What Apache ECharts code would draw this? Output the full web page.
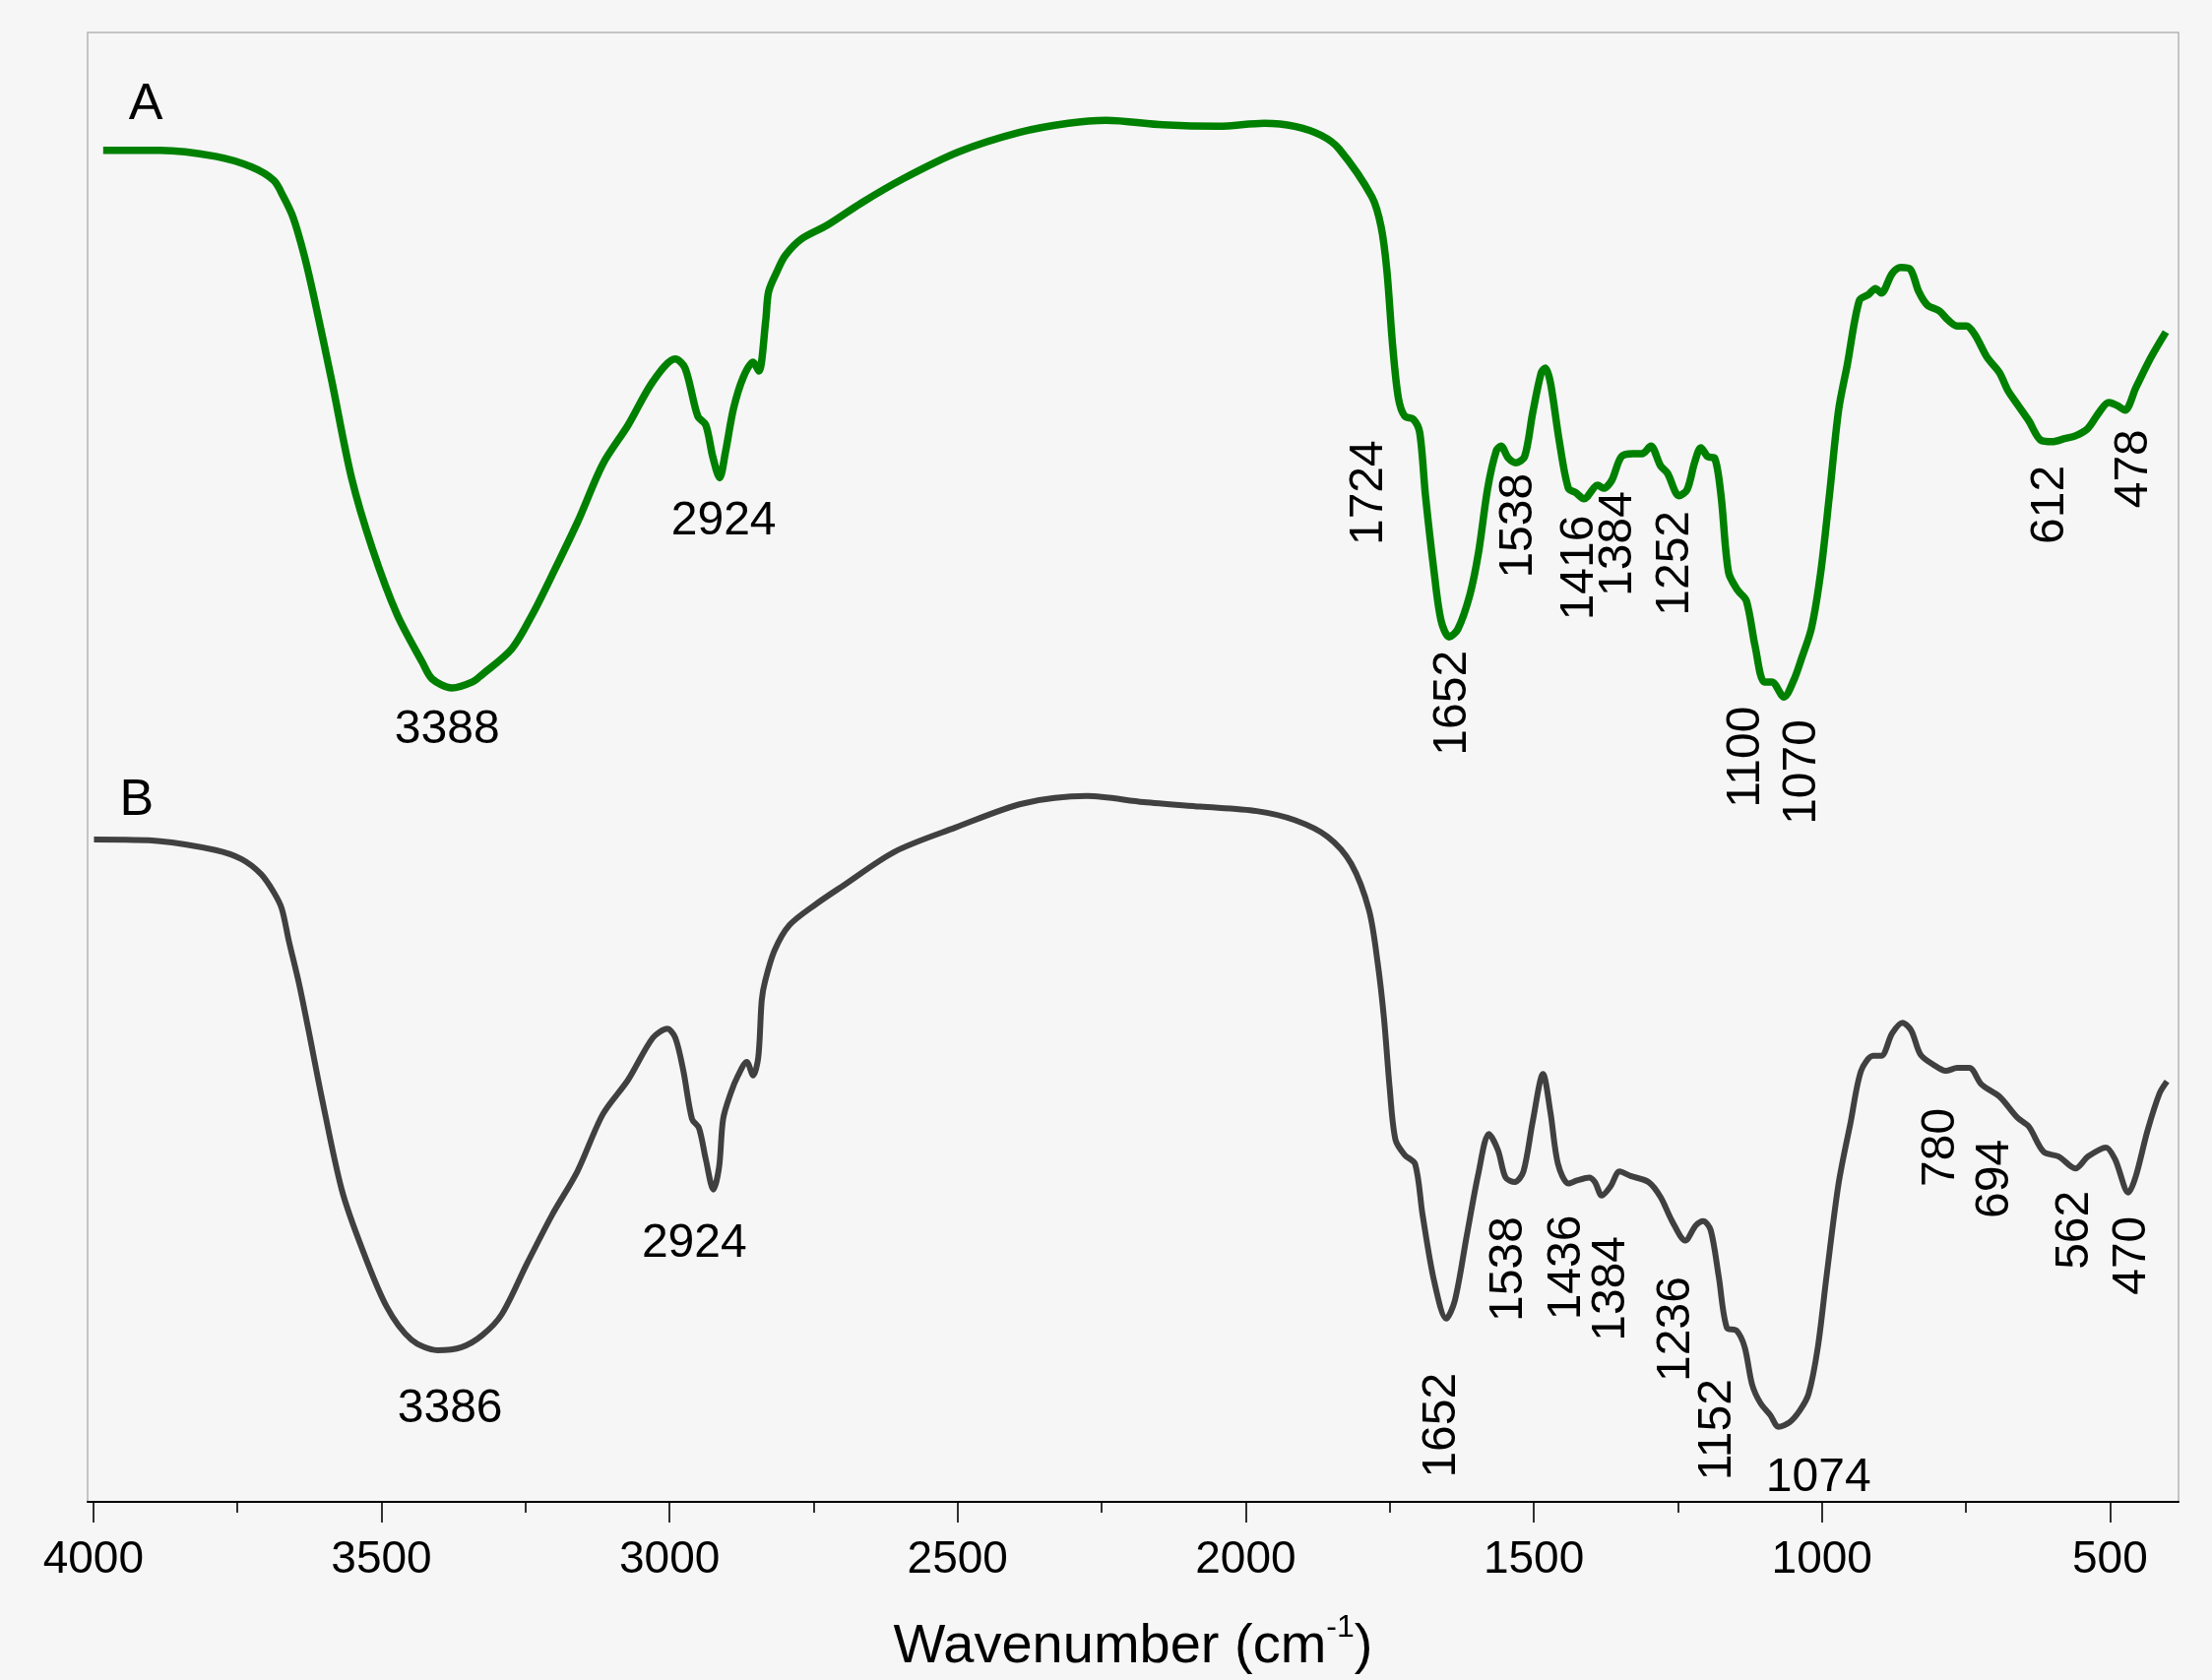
<!DOCTYPE html>
<html>
<head>
<meta charset="utf-8">
<script src="https://cdn.jsdelivr.net/npm/echarts@6/dist/echarts.min.js"></script>
<style>
html,body{margin:0;padding:0;background:#f6f6f6;}
#c{width:2247px;height:1707px;}
</style>
</head>
<body>
<div id="c"></div>
<script>
// Spectrum A (green): wavenumber (cm-1) and transmittance (a.u., offset)
const waveA = [3983,3884,3788,3726,3687,3670,3653,3634,3617,3586,3552,3516,3473,3429,3412,3378,3342,3325,3274,3238,3204,3159,3116,3072,3029,2990,2973,2951,2937,2925,2913,2903,2889,2872,2855,2845,2833,2828,2814,2799,2771,2727,2667,2595,2498,2392,2308,2242,2144,2047,1968,1915,1869,1838,1781,1765,1755,1745,1735,1724,1709,1698,1688,1673,1661,1647,1632,1611,1596,1580,1565,1557,1544,1531,1516,1502,1487,1480,1471,1456,1440,1427,1413,1389,1379,1365,1348,1328,1312,1297,1280,1268,1248,1234,1221,1210,1198,1186,1175,1162,1146,1131,1116,1100,1087,1066,1049,1035,1018,1002,987,971,956,935,919,907,897,878,863,847,832,817,796,781,765,749,734,713,692,677,661,641,620,600,579,559,538,518,502,487,474,455,429,403];
const transA = [90.0,90.0,89.6,88.9,88.0,86.9,85.5,83.0,80.2,74.6,68.2,63.5,59.1,55.9,54.8,54.2,54.6,55.1,56.8,59.1,61.7,65.3,69.1,71.7,74.6,76.1,75.5,72.3,71.7,69.6,68.2,69.9,72.8,74.9,75.9,75.3,78.7,80.6,81.9,83.0,84.1,85.0,86.5,88.1,89.9,91.2,91.8,92.0,91.7,91.6,91.8,91.6,91.0,90.1,86.9,84.9,82.0,77.0,73.5,72.3,72.1,71.2,67.0,61.9,58.7,57.6,58.1,60.4,63.2,67.5,70.0,70.3,69.5,69.2,69.6,72.5,75.2,75.5,74.5,70.7,67.5,67.2,66.8,67.7,67.5,68.0,69.6,69.8,69.8,70.3,69.0,68.5,67.0,67.4,69.2,70.2,69.6,69.5,67.0,61.9,60.7,60.0,57.0,54.6,54.6,53.6,54.7,56.2,58.2,61.9,67.0,72.7,75.7,80.0,80.4,80.8,80.5,81.8,82.2,82.1,80.6,79.7,79.3,78.7,78.3,78.3,77.7,76.2,75.2,74.0,73.1,72.0,70.7,70.6,70.8,71.0,71.5,72.6,73.2,73.0,72.7,74.2,76.2,77.9];

// Spectrum B (dark grey)
const waveB = [3999,3884,3788,3743,3709,3687,3673,3661,3643,3626,3604,3569,3535,3491,3448,3403,3361,3325,3291,3247,3204,3160,3116,3072,3029,3004,2990,2976,2961,2949,2937,2924,2914,2907,2894,2881,2866,2855,2846,2840,2834,2818,2792,2746,2700,2609,2504,2387,2275,2177,2079,1981,1915,1858,1817,1786,1771,1760,1750,1740,1724,1706,1693,1673,1652,1637,1616,1596,1578,1562,1549,1533,1518,1502,1484,1471,1458,1440,1425,1404,1394,1382,1367,1351,1332,1301,1280,1260,1237,1219,1206,1193,1179,1165,1148,1134,1121,1107,1090,1075,1056,1038,1023,1007,992,971,950,932,911,897,878,860,845,829,806,785,765,744,723,692,661,641,615,589,560,538,507,491,468,455,435,414,401];
const transB = [44.1,44.0,43.4,42.8,41.8,40.6,39.5,37.4,34.5,31.3,27.0,20.8,17.0,13.0,10.8,10.1,10.3,11.1,12.5,15.9,19.1,22.0,25.8,28.1,30.9,31.5,30.9,28.7,25.5,24.9,22.8,20.8,22.3,25.5,27.2,28.4,29.3,28.4,29.6,33.4,34.7,36.7,38.4,39.8,41.0,43.3,44.9,46.5,47.0,46.6,46.3,46.0,45.4,44.3,42.5,39.4,35.9,32.2,27.5,24.1,23.1,22.5,19.1,14.7,12.2,13.4,17.8,21.9,24.5,23.4,21.6,21.3,22.0,25.3,28.5,25.9,22.5,21.2,21.4,21.6,21.3,20.4,21.0,22.0,21.7,21.3,20.3,18.7,17.4,18.4,18.7,18.1,15.0,11.6,11.4,10.3,7.8,6.6,5.8,5.0,5.3,6.1,7.2,10.3,15.0,21.2,25.3,28.7,29.7,29.7,31.2,31.9,31.4,29.8,29.1,28.7,28.9,28.9,27.8,27.0,25.6,25.0,23.3,23.0,22.2,23.0,23.6,22.8,20.6,21.7,24.7,27.2,28.0];

// Peak annotations
const peakTextA = ['3388','2924','1724','1652','1538','1416','1384','1252','1100','1070','612','478'];
const peakXA    = [3386,2906,1785,1640,1526,1421,1353,1254,1131,1034,603,458];
const peakYA    = [51.4,65.3,67.2,53.2,65.0,62.2,63.8,62.5,49.6,48.6,66.4,68.8];
const peakRotA  = [0,0,90,90,90,90,90,90,90,90,90,90];

const peakTextB = ['3386','2924','1652','1538','1436','1384','1236','1152','1074','780','694','562','470'];
const peakXB    = [3381,2957,1659,1543,1442,1365,1252,1181,1006,794,700,560,461];
const peakYB    = [6.2,17.2,5.1,15.5,15.6,14.2,11.5,4.8,1.6,23.6,21.5,18.1,16.4];
const peakRotB  = [0,0,90,90,90,90,90,90,0,90,90,90,90];

const curveNames = ['A','B'];
const curveNameX = [3909,3925];
const curveNameY = [93.0,46.7];

const majorTicks = [4000,3500,3000,2500,2000,1500,1000,500];
const minorTicks = [3750,3250,2750,2250,1750,1250,750];

const FONT = '"Liberation Sans", Arial, sans-serif';

function zip(xs, ys){ return xs.map((x,i)=>[x, ys[i]]); }
function labelData(texts, xs, ys, rots, size){
  return texts.map((t,i)=>({
    value:[xs[i], ys[i]],
    label:{show:true, formatter:t, rotate:rots[i], position:'inside', fontSize:size, color:'#000000', fontFamily:FONT, align:'center', verticalAlign:'middle', textBorderWidth:0, opacity:1}
  }));
}
function labelSeries(texts, xs, ys, rots, size){
  return {type:'scatter', symbolSize:0, silent:true, z:5,
    itemStyle:{opacity:0},
    label:{show:true, color:'#000000', fontSize:size, fontFamily:FONT, position:'inside', textBorderWidth:0, opacity:1},
    emphasis:{disabled:true},
    data:labelData(texts, xs, ys, rots, size)};
}

const chart = echarts.init(document.getElementById('c'), null, {renderer:'canvas'});
chart.setOption({
  backgroundColor:'#f6f6f6',
  animation:false,
  grid:{left:89, right:34, top:33, bottom:175, show:true, borderColor:'#b4b4b4', borderWidth:1.5, backgroundColor:'transparent'},
  xAxis:[{
    type:'value', min:381, max:4010, inverse:true,
    axisLine:{show:true, onZero:false, lineStyle:{color:'#000', width:2}},
    axisTick:{show:true, customValues:majorTicks, length:21, lineStyle:{color:'#000', width:1.6}},
    axisLabel:{show:true, customValues:majorTicks, fontSize:46, color:'#000', margin:36, fontFamily:FONT,
      formatter:function(v){ return String(v); }},
    splitLine:{show:false},
    name:'{a|Wavenumber (cm}{s|-1}{a|)}',
    nameLocation:'middle', nameGap:112,
    nameTextStyle:{rich:{
      a:{fontSize:56, color:'#000', fontFamily:FONT, verticalAlign:'bottom', lineHeight:64},
      s:{fontSize:32, color:'#000', fontFamily:FONT, verticalAlign:'top', lineHeight:64}
    }}
  },{
    type:'value', min:381, max:4010, inverse:true, position:'bottom',
    axisLine:{show:false},
    axisTick:{show:true, customValues:minorTicks, length:11, lineStyle:{color:'#000', width:1.6}},
    axisLabel:{show:false},
    splitLine:{show:false}
  }],
  yAxis:{type:'value', min:0, max:97.85, show:false},
  series:[
    {type:'line', name:'A', data:zip(waveA, transA), showSymbol:false, smooth:0.3,
     lineStyle:{color:'#008000', width:7.5}, silent:true, z:3},
    {type:'line', name:'B', data:zip(waveB, transB), showSymbol:false, smooth:0.3,
     lineStyle:{color:'#404040', width:6}, silent:true, z:3},
    labelSeries(peakTextA, peakXA, peakYA, peakRotA, 48),
    labelSeries(peakTextB, peakXB, peakYB, peakRotB, 48),
    labelSeries(curveNames, curveNameX, curveNameY, [0,0], 52)
  ]
});
</script>
</body>
</html>
